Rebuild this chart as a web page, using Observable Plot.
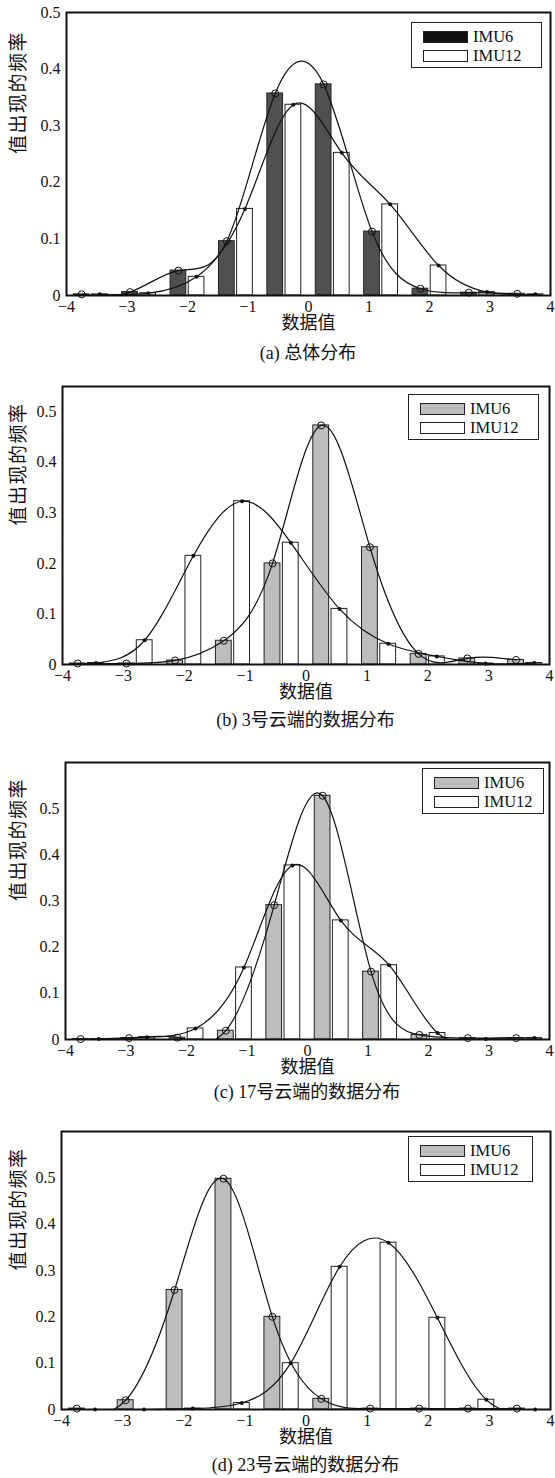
<!DOCTYPE html>
<html>
<head>
<meta charset="utf-8">
<script src="https://cdn.jsdelivr.net/npm/d3@7"></script>
<script src="https://cdn.jsdelivr.net/npm/@observablehq/plot@0.6"></script>
<style>
  body { margin: 0; background: #fff; }
  #root { position: relative; width: 555px; height: 1478px; overflow: hidden; background: #fff; }
  .panel { position: absolute; left: 0; }
  .cap { position: absolute; text-align: center; font-family: "Liberation Serif", "Noto Sans CJK SC", serif; font-size: 18px; line-height: 20px; color: #111; white-space: nowrap; }
  .legend { position: absolute; box-sizing: border-box; border: 1.5px solid #222; background: #fff; height: 46px; padding: 4px 0 0 11px; font-family: "Liberation Serif", serif; font-size: 16.5px; color: #111; }
  .legend .row { display: flex; align-items: center; height: 19px; }
  .legend .row span { line-height: 16px; }
  .legend .sw { display: inline-block; width: 45px; height: 12px; border: 1.3px solid #222; margin-right: 5px; box-sizing: border-box; }
  .ylab text { letter-spacing: 1.5px; }
</style>
</head>
<body>
<div id="root"></div>
<script>
// ---- data ----
const seriesNames = ["IMU6", "IMU12"];
const xTicks = [-4, -3, -2, -1, 0, 1, 2, 3, 4];
const yTicks = [0, 0.1, 0.2, 0.3, 0.4, 0.5];
const centersIMU6  = [-3.75, -2.95, -2.15, -1.35, -0.55, 0.25, 1.05, 1.85, 2.65, 3.45];
const centersIMU12 = [-3.45, -2.65, -1.85, -1.05, -0.25, 0.55, 1.35, 2.15, 2.95, 3.75];

const totalIMU6   = [0.002, 0.006, 0.044, 0.096, 0.357, 0.373, 0.113, 0.012, 0.005, 0.003];
const totalIMU12  = [0.002, 0.004, 0.033, 0.153, 0.337, 0.252, 0.161, 0.053, 0.006, 0.002];
const cloud3IMU6  = [0.002, 0.002, 0.008, 0.047, 0.200, 0.473, 0.232, 0.021, 0.012, 0.009];
const cloud3IMU12 = [0.003, 0.048, 0.215, 0.323, 0.241, 0.110, 0.041, 0.016, 0.002, 0.003];
const cloud17IMU6  = [0.001, 0.003, 0.004, 0.019, 0.291, 0.528, 0.147, 0.010, 0.003, 0.003];
const cloud17IMU12 = [0.001, 0.005, 0.024, 0.156, 0.377, 0.258, 0.161, 0.014, 0.001, 0.003];
const cloud23IMU6  = [0.002, 0.020, 0.258, 0.498, 0.200, 0.023, 0.002, 0.002, 0.002, 0.002];
const cloud23IMU12 = [0.000, 0.000, 0.002, 0.014, 0.100, 0.308, 0.360, 0.198, 0.021, 0.000];

const captions = ["(a) 总体分布", "(b) 3号云端的数据分布", "(c) 17号云端的数据分布", "(d) 23号云端的数据分布"];
const xLabel = "数据值";
const yLabel = "值出现的频率";
const yMaxes = [0.5, 0.55, 0.6, 0.6];

// ---- layout (pixels / styles) ----
const layout = [
  {ty: 12,   by: 295,  lx: 66, rx: 550, fill6: "#505050", leg6: "#111",    leg: {x: 411, y: 22,   w: 131}, capDy: 58},
  {ty: 386,  by: 664,  lx: 62, rx: 549, fill6: "#bdbdbd", leg6: "#bdbdbd", leg: {x: 408, y: 394,  w: 131}, capDy: 56},
  {ty: 762,  by: 1039, lx: 65, rx: 549, fill6: "#bdbdbd", leg6: "#bdbdbd", leg: {x: 422, y: 768,  w: 122}, capDy: 53},
  {ty: 1131, by: 1409, lx: 61, rx: 550, fill6: "#bdbdbd", leg6: "#bdbdbd", leg: {x: 408, y: 1136, w: 125}, capDy: 56}
];
const panelsData = [
  [totalIMU6, totalIMU12],
  [cloud3IMU6, cloud3IMU12],
  [cloud17IMU6, cloud17IMU12],
  [cloud23IMU6, cloud23IMU12]
];

const halfW = 0.13;
const latin = "Liberation Serif";
const cjk = "Liberation Serif, Noto Sans CJK SC";
const root = document.getElementById("root");
const mt = 6, mb = 50;

panelsData.forEach(([v6, v12], i) => {
  const L = layout[i];
  const rows6 = centersIMU6.map((x, k) => ({x, v: v6[k]}));
  const rows12 = centersIMU12.map((x, k) => ({x, v: v12[k]}));
  const chart = Plot.plot({
    width: 555,
    height: mt + (L.by - L.ty) + mb,
    marginTop: mt, marginBottom: mb, marginLeft: L.lx, marginRight: 555 - L.rx,
    x: {domain: [-4, 4]},
    y: {domain: [0, yMaxes[i]]},
    style: {background: "transparent", overflow: "visible", color: "#111"},
    marks: [
      Plot.rectY(rows6, {x1: d => d.x - halfW, x2: d => d.x + halfW, y1: 0, y2: "v", fill: L.fill6, stroke: "#222", strokeWidth: 1}),
      Plot.rectY(rows12, {x1: d => d.x - halfW, x2: d => d.x + halfW, y1: 0, y2: "v", fill: "white", stroke: "#222", strokeWidth: 1}),
      Plot.line(rows6, {x: "x", y: "v", curve: "natural", stroke: "#111", strokeWidth: 1.2, clip: true}),
      Plot.line(rows12, {x: "x", y: "v", curve: "natural", stroke: "#111", strokeWidth: 1.2, clip: true}),
      Plot.dot(rows6, {x: "x", y: "v", r: 3.5, stroke: "#111", fill: "none", strokeWidth: 1}),
      Plot.dot(rows12, {x: "x", y: "v", r: 2, fill: "#111", stroke: "none"}),
      Plot.frame({stroke: "#111", strokeWidth: 2}),
      Plot.axisX({ticks: xTicks, tickSize: 0, tickPadding: 5, fontSize: 16, fontFamily: latin, label: null,
                  tickFormat: d => d < 0 ? "−" + Math.abs(d) : String(d)}),
      Plot.axisY({ticks: yTicks, tickSize: 0, tickPadding: 6, fontSize: 16, fontFamily: latin, label: null,
                  tickFormat: d => d === 0 ? "0" : d.toFixed(1)}),
      Plot.text([xLabel], {text: d => d, frameAnchor: "bottom", dy: 33, fontSize: 18, fontFamily: cjk, fill: "#111"}),
      Plot.text([yLabel], {text: d => d, frameAnchor: "left", dx: 18 - L.lx, rotate: -90, fontSize: 19, fontFamily: cjk, fill: "#111", className: "ylab"})
    ]
  });
  const wrap = document.createElement("div");
  wrap.className = "panel";
  wrap.style.top = (L.ty - mt) + "px";
  wrap.appendChild(chart);
  root.appendChild(wrap);

  // caption below
  const cap = document.createElement("div");
  cap.className = "cap";
  cap.textContent = captions[i];
  const cx = (L.lx + L.rx) / 2;
  cap.style.left = (cx - 150) + "px";
  cap.style.width = "300px";
  cap.style.top = (L.by + L.capDy - 10) + "px";
  root.appendChild(cap);

  // legend
  const leg = document.createElement("div");
  leg.className = "legend";
  leg.style.left = L.leg.x + "px";
  leg.style.top = L.leg.y + "px";
  leg.style.width = L.leg.w + "px";
  seriesNames.forEach((name, k) => {
    const row = document.createElement("div");
    row.className = "row";
    const sw = document.createElement("span");
    sw.className = "sw";
    sw.style.background = k === 0 ? L.leg6 : "#fff";
    const t = document.createElement("span");
    t.textContent = name;
    row.appendChild(sw);
    row.appendChild(t);
    leg.appendChild(row);
  });
  root.appendChild(leg);
});
</script>
</body>
</html>
